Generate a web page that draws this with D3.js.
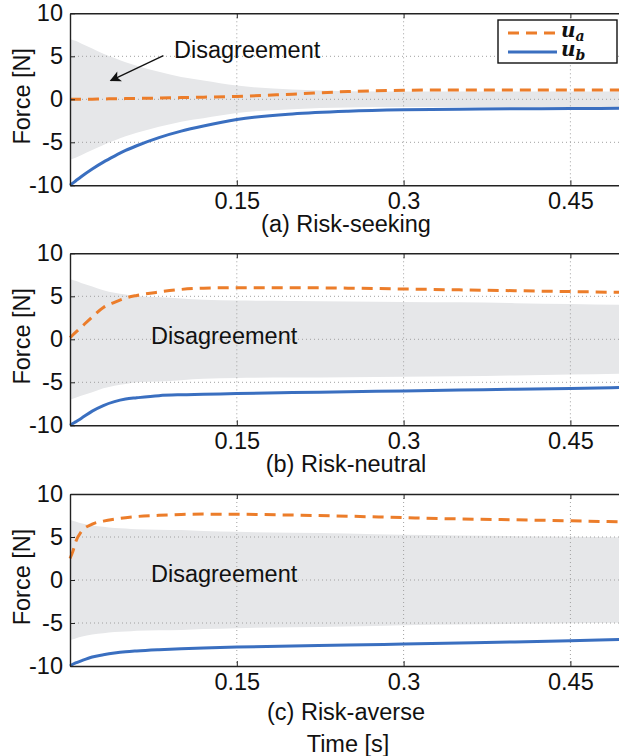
<!DOCTYPE html>
<html>
<head>
<meta charset="utf-8">
<script src="https://cdn.jsdelivr.net/npm/d3@7"></script>
<style>
  body { margin: 0; background: #fff; }
  svg { display: block; }
</style>
</head>
<body>
<div id="chart"></div>
<script>
// Data
const time = [0, 0.0025, 0.005, 0.01, 0.02, 0.03, 0.04, 0.05, 0.06, 0.08, 0.1, 0.12, 0.15, 0.2, 0.25, 0.3, 0.35, 0.4, 0.45, 0.5];

// (a) risk-seeking
const seekUa = [0, 0, 0, 0, 0.02, 0.04, 0.06, 0.08, 0.1, 0.15, 0.2, 0.25, 0.33, 0.6, 0.9, 1.05, 1.08, 1.08, 1.08, 1.08];
const seekUb = [-10, -9.75, -9.5, -9.0, -8.1, -7.3, -6.6, -5.95, -5.4, -4.45, -3.7, -3.1, -2.35, -1.7, -1.38, -1.22, -1.15, -1.1, -1.08, -1.05];
const seekBand = [7, 6.9, 6.8, 6.5, 5.9, 5.3, 4.8, 4.3, 3.9, 3.2, 2.6, 2.2, 1.6, 1.15, 0.95, 0.9, 0.9, 0.9, 0.9, 0.9];

// (b) risk-neutral
const neutUa = [0.2, 0.5, 0.8, 1.4, 2.6, 3.7, 4.3, 4.8, 5.1, 5.5, 5.8, 5.95, 6.0, 6.0, 5.95, 5.85, 5.75, 5.65, 5.55, 5.45];
const neutUb = [-10, -9.8, -9.6, -9.2, -8.35, -7.7, -7.25, -6.95, -6.8, -6.55, -6.45, -6.4, -6.3, -6.2, -6.1, -6.0, -5.9, -5.8, -5.72, -5.6];
const neutBand = [7, 6.9, 6.8, 6.55, 6.15, 5.7, 5.4, 5.2, 5.0, 4.9, 4.75, 4.6, 4.5, 4.45, 4.4, 4.35, 4.3, 4.2, 4.1, 4.0];

// (c) risk-averse
const aversUa = [2.5, 3.3, 4.4, 5.6, 6.5, 6.85, 7.08, 7.25, 7.38, 7.52, 7.62, 7.66, 7.65, 7.55, 7.42, 7.25, 7.1, 7.0, 6.88, 6.75];
const aversUb = [-10, -9.8, -9.65, -9.4, -8.95, -8.7, -8.5, -8.35, -8.25, -8.1, -7.98, -7.9, -7.8, -7.68, -7.57, -7.45, -7.32, -7.2, -7.05, -6.9];
const aversBand = [7, 6.9, 6.8, 6.6, 6.35, 6.2, 6.05, 6.0, 5.9, 5.85, 5.8, 5.7, 5.6, 5.5, 5.42, 5.25, 5.18, 5.1, 5.02, 4.95];

const captions = ["(a) Risk-seeking", "(b) Risk-neutral", "(c) Risk-averse"];
const xTicks = [0.15, 0.3, 0.45];
const yTicks = [-10, -5, 0, 5, 10];
const gridY = [-5, 0, 5];

const panels = [
    { ua: seekUa, ub: seekUb, band: seekBand, caption: captions[0] },
    { ua: neutUa, ub: neutUb, band: neutBand, caption: captions[1] },
    { ua: aversUa, ub: aversUb, band: aversBand, caption: captions[2] }
];

// Layout
const width = 619;
const height = 756;
const left = 70;
const right = 626;      // axis runs past the picture edge
const tops = [13.3, 253.3, 494];
const panelH = 172;
const captionY = [232, 472, 720];

const orange = "#EC7D2A";
const blue = "#3A6FC0";
const bandFill = "#E6E7E9";
const font = "'Liberation Sans', Arial, Helvetica, sans-serif";
const fs = 23.5;

const svg = d3.select("#chart")
    .append("svg")
    .attr("width", width)
    .attr("height", height)
    .style("font-family", font);

svg.append("defs").append("marker")
    .attr("id", "arrowhead")
    .attr("viewBox", "0 0 10 10")
    .attr("refX", 9)
    .attr("refY", 5)
    .attr("markerWidth", 14)
    .attr("markerHeight", 11)
    .attr("markerUnits", "userSpaceOnUse")
    .attr("orient", "auto")
    .append("path")
    .attr("d", "M0,0 L10,5 L0,10 L2.5,5 Z")
    .attr("fill", "#111");

const x = d3.scaleLinear().domain([0, 0.5]).range([left, right]);

panels.forEach((p, i) => {
    const top = tops[i];
    const y = d3.scaleLinear().domain([-10, 10]).range([top + panelH, top]);
    const g = svg.append("g");

    const pts = time.map((t, k) => ({ t: t, a: p.ua[k], b: p.ub[k], w: p.band[k] }));

    // disagreement band
    g.append("path")
        .datum(pts)
        .attr("fill", bandFill)
        .attr("d", d3.area()
            .x(d => x(d.t))
            .y0(d => y(-d.w))
            .y1(d => y(d.w))
            .curve(d3.curveMonotoneX));

    // dotted grid
    g.selectAll(".gx")
        .data(xTicks)
        .enter().append("line")
        .attr("x1", d => x(d)).attr("x2", d => x(d))
        .attr("y1", top).attr("y2", top + panelH)
        .attr("stroke", "#a0a0a0")
        .attr("stroke-width", 1)
        .attr("stroke-dasharray", "1,3");

    g.selectAll(".gy")
        .data(gridY)
        .enter().append("line")
        .attr("x1", left).attr("x2", right)
        .attr("y1", d => y(d)).attr("y2", d => y(d))
        .attr("stroke", "#a0a0a0")
        .attr("stroke-width", 1)
        .attr("stroke-dasharray", "1,3");

    // series
    g.append("path")
        .datum(pts)
        .attr("fill", "none")
        .attr("stroke", blue)
        .attr("stroke-width", 3)
        .attr("d", d3.line().x(d => x(d.t)).y(d => y(d.b)).curve(d3.curveMonotoneX));

    g.append("path")
        .datum(pts)
        .attr("fill", "none")
        .attr("stroke", orange)
        .attr("stroke-width", 3)
        .attr("stroke-dasharray", "11,7")
        .attr("d", d3.line().x(d => x(d.t)).y(d => y(d.a)).curve(d3.curveMonotoneX));

    // axes
    const xAxis = g.append("g")
        .attr("transform", `translate(0,${top + panelH})`)
        .call(d3.axisBottom(x).tickValues(xTicks).tickSize(-5).tickSizeOuter(0).tickPadding(7)
            .tickFormat(d => String(d)));

    const xTop = g.append("g")
        .attr("transform", `translate(0,${top})`)
        .call(d3.axisTop(x).tickValues(xTicks).tickSize(-5).tickSizeOuter(0).tickFormat(""));

    const yAxis = g.append("g")
        .attr("transform", `translate(${left},0)`)
        .call(d3.axisLeft(y).tickValues(yTicks).tickSize(-5).tickSizeOuter(0).tickPadding(7)
            .tickFormat(d => String(d)));

    [xAxis, xTop, yAxis].forEach(a => {
        a.select(".domain").attr("stroke", "#222").attr("stroke-width", 1.4);
        a.selectAll(".tick line").attr("stroke", "#222").attr("stroke-width", 1);
        a.selectAll("text").attr("fill", "#111").style("font-size", fs + "px").style("font-family", font);
    });

    // y label
    svg.append("text")
        .attr("transform", `translate(30,${top + panelH / 2 - 3}) rotate(-90)`)
        .attr("text-anchor", "middle")
        .style("font-size", fs + "px")
        .attr("fill", "#111")
        .text("Force [N]");

    // caption
    svg.append("text")
        .attr("x", 346)
        .attr("y", captionY[i])
        .attr("text-anchor", "middle")
        .style("font-size", fs + "px")
        .attr("fill", "#111")
        .text(p.caption);

    // annotation
    if (i === 0) {
        g.append("text")
            .attr("x", x(0.0935)).attr("y", y(4.85))
            .style("font-size", fs + "px")
            .attr("fill", "#111")
            .text("Disagreement");
        g.append("line")
            .attr("x1", x(0.084)).attr("y1", y(5.08))
            .attr("x2", x(0.0366)).attr("y2", y(2.17))
            .attr("stroke", "#111")
            .attr("stroke-width", 1.3)
            .attr("marker-end", "url(#arrowhead)");
    } else {
        g.append("text")
            .attr("x", x(0.0728)).attr("y", y(i === 1 ? -0.56 : -0.23))
            .style("font-size", fs + "px")
            .attr("fill", "#111")
            .text("Disagreement");
    }
});

// x label
svg.append("text")
    .attr("x", 348)
    .attr("y", 752)
    .attr("text-anchor", "middle")
    .style("font-size", fs + "px")
    .attr("fill", "#111")
    .text("Time [s]");

// Legend
const legend = svg.append("g").attr("transform", "translate(498,20)");
legend.append("rect")
    .attr("width", 119).attr("height", 43)
    .attr("fill", "#fff")
    .attr("stroke", "#111")
    .attr("stroke-width", 1.4);

const legendItems = [
    { sub: "a", color: orange, dash: "11,7", y: 13 },
    { sub: "b", color: blue, dash: null, y: 32 }
];

legendItems.forEach(d => {
    legend.append("line")
        .attr("x1", 10).attr("x2", 59)
        .attr("y1", d.y).attr("y2", d.y)
        .attr("stroke", d.color)
        .attr("stroke-width", 3)
        .attr("stroke-dasharray", d.dash);
    const txt = legend.append("text")
        .attr("x", 63).attr("y", d.y + 4)
        .style("font-family", "'DejaVu Serif', 'Liberation Serif', serif")
        .style("font-weight", "bold")
        .style("font-style", "italic")
        .attr("fill", "#111");
    txt.append("tspan").style("font-size", "20px").text("u");
    txt.append("tspan").style("font-size", "14px").attr("dy", 4).text(d.sub);
});
</script>
</body>
</html>
